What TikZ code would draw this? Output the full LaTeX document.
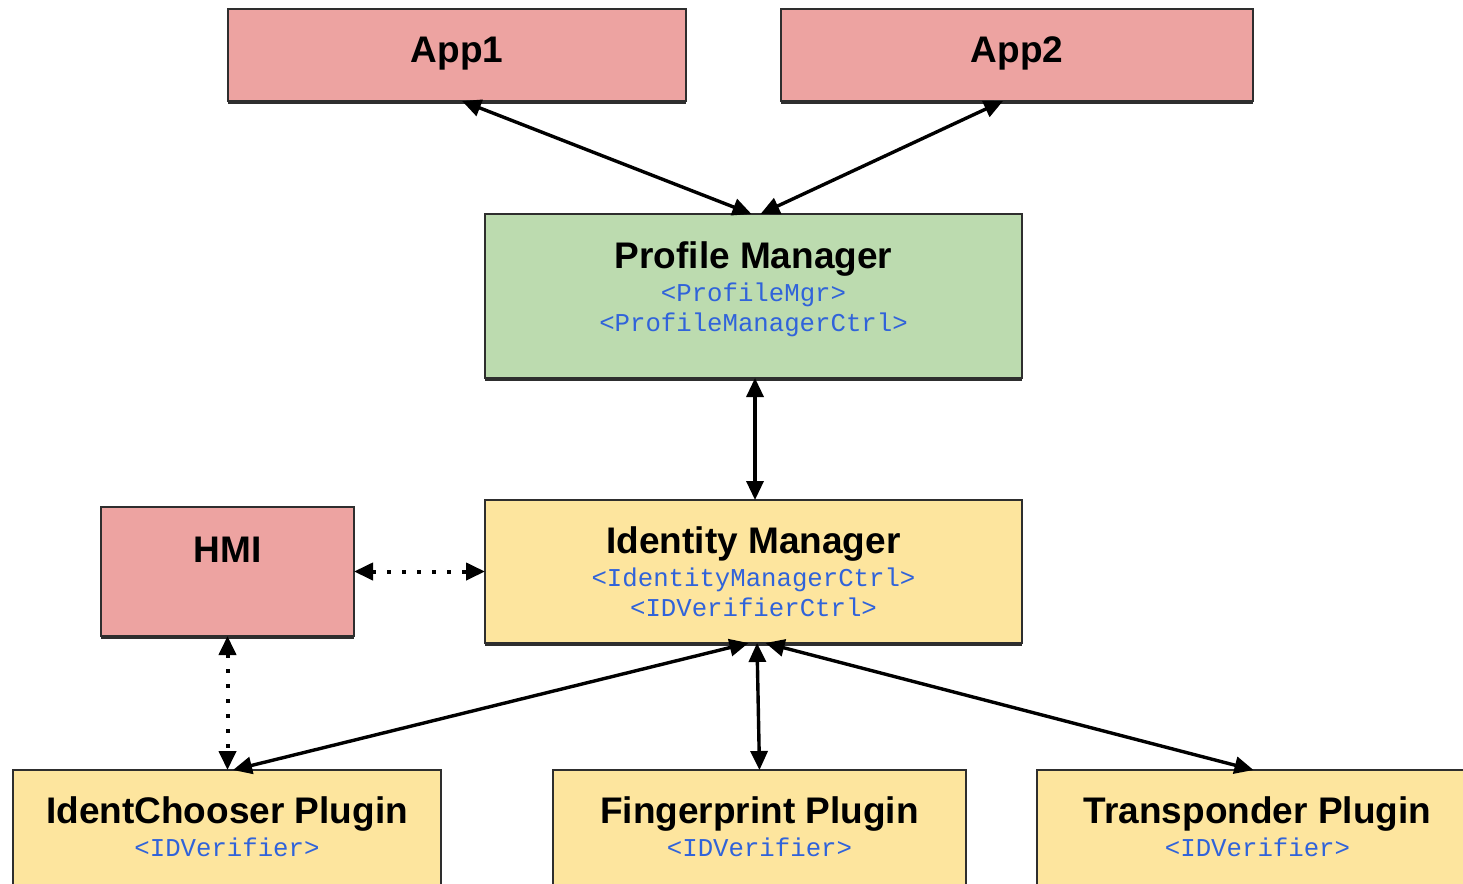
\documentclass[tikz,border=0pt]{standalone}
\usepackage{fontspec}
\setmainfont{Liberation Sans}
\setmonofont{Liberation Mono}
\usetikzlibrary{arrows.meta}
\definecolor{pinkfill}{HTML}{EDA3A1}
\definecolor{greenfill}{HTML}{BCDBAF}
\definecolor{yellowfill}{HTML}{FDE59E}
\definecolor{edgecol}{HTML}{2E2E2E}
\definecolor{ifblue}{HTML}{3063DA}
\begin{document}
\begin{tikzpicture}[x=1pt,y=-1pt,
  box/.style={draw=edgecol, line width=2pt, inner sep=0pt, outer sep=0pt},
  title/.style={anchor=base, font=\fontsize{37}{40}\selectfont\bfseries, text=black, inner sep=0pt},
  iface/.style={anchor=base, font=\fontsize{25.7}{30}\selectfont\ttfamily, text=ifblue, inner sep=0pt},
  conn/.style={line width=3.4pt, {Triangle[length=19pt,width=17pt]}-{Triangle[length=19pt,width=17pt]}},
  dotconn/.style={conn, line width=4pt, dash pattern=on 4pt off 11pt}]
\useasboundingbox (0,0) rectangle (1463,883);
% boxes
\node[box, fill=pinkfill, minimum width=458pt, minimum height=92pt] (app1) at (457,55) {};
\node[box, fill=pinkfill, minimum width=472pt, minimum height=92pt] (app2) at (1017,55) {};
\node[box, fill=greenfill, minimum width=537pt, minimum height=164pt] (pm) at (753.5,296) {};
\node[box, fill=yellowfill, minimum width=537pt, minimum height=143pt] (im) at (753.5,571.5) {};
\node[box, fill=pinkfill, minimum width=253pt, minimum height=129pt] (hmi) at (227.5,571.5) {};
\node[box, fill=yellowfill, minimum width=428pt, minimum height=140pt] (ic) at (227,840) {};
\node[box, fill=yellowfill, minimum width=413pt, minimum height=140pt] (fp) at (759.5,840) {};
\node[box, fill=yellowfill, minimum width=441pt, minimum height=140pt] (tp) at (1257.5,840) {};
% bottom shadows
\foreach \n in {app1,app2,pm,im,hmi}
  \draw[edgecol, line width=2pt] ([yshift=-1.5pt]\n.south west) -- ([yshift=-1.5pt]\n.south east);
% texts
\node[title] (tapp1) at (457,63) {App1};
\node[title] (tapp2) at (1017,63) {App2};
\node[title] (tpm) at (753.5,268) {Profile Manager};
\node[iface] (ipm1) at (753.5,301) {<ProfileMgr>};
\node[iface] (ipm2) at (753.5,331) {<ProfileManagerCtrl>};
\node[title] (tim) at (753.5,553) {Identity Manager};
\node[iface] (iim1) at (753.5,586) {<IdentityManagerCtrl>};
\node[iface] (iim2) at (753.5,616) {<IDVerifierCtrl>};
\node[title] (thmi) at (227.5,562) {HMI};
\node[title] (tic) at (227,823) {IdentChooser Plugin};
\node[iface] (iic) at (227,856) {<IDVerifier>};
\node[title] (tfp) at (759.5,823) {Fingerprint Plugin};
\node[iface] (ifp) at (759.5,856) {<IDVerifier>};
\node[title] (ttp) at (1257.5,823) {Transponder Plugin};
\node[iface] (itp) at (1257.5,856) {<IDVerifier>};
% connectors
\draw[conn] ([xshift=5pt]app1.south) -- ([xshift=-2pt]pm.north);
\draw[conn] ([xshift=-14pt]app2.south) -- ([xshift=7pt]pm.north);
\draw[conn] ([xshift=1.5pt]pm.south) -- ([xshift=1.5pt]im.north);
\draw[dotconn] (hmi.east) -- (im.west);
\draw[dotconn] (hmi.south) -- (hmi.south |- ic.north);
\draw[conn] ([xshift=-5pt]im.south) -- ([xshift=6pt]ic.north);
\draw[conn] ([xshift=3.5pt]im.south) -- (fp.north);
\draw[conn] ([xshift=12pt]im.south) -- ([xshift=-4pt]tp.north);
\end{tikzpicture}
\end{document}
